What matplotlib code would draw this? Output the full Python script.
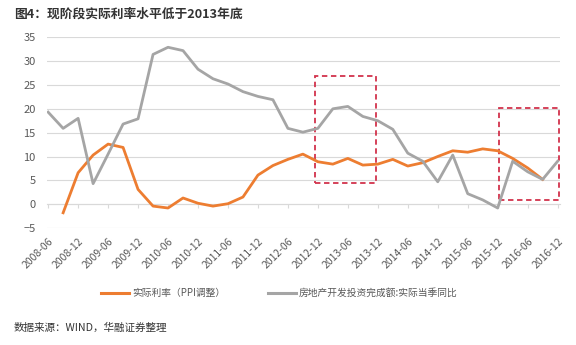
import numpy as np
import matplotlib
matplotlib.use("Agg")
import matplotlib.pyplot as plt
from matplotlib.patches import Rectangle

plt.rcParams['font.family'] = ['Noto Sans CJK SC', 'DejaVu Sans']

# quarterly points 2008-06 .. 2016-12
quarters = [f"{y}-{m:02d}" for y in range(2008, 2017) for m in (3, 6, 9, 12)][1:]
tick_labels = [q for q in quarters if q.endswith(("06", "12"))]

real_rate = [np.nan, -1.8, 6.6, 10.3, 12.6, 11.9, 3.1, -0.4, -0.8, 1.3,
             0.2, -0.4, 0.1, 1.5, 6.1, 8.1, 9.4, 10.5, 8.9, 8.4,
             9.6, 8.2, 8.4, 9.4, 8.0, 8.7, 10.0, 11.2, 10.9, 11.6,
             11.2, 9.6, 7.6, 5.2, np.nan]
property_inv = [19.3, 15.9, 18.0, 4.3, 10.5, 16.8, 17.9, 31.4, 32.9, 32.2,
                28.3, 26.3, 25.2, 23.6, 22.6, 21.9, 15.9, 15.1, 15.9, 20.0,
                20.5, 18.4, 17.5, 15.7, 10.7, 9.0, 4.7, 10.3, 2.2, 0.9,
                -0.8, 9.0, 6.8, 5.2, 9.0]

# highlighted boxes: (x0 index, x1 index, y0, y1)
boxes = [(17.8, 21.9, 4.4, 26.8), (30.1, 34.1, 0.9, 20.1)]

x = np.arange(len(quarters))

fig = plt.figure(figsize=(5.76, 3.45), dpi=100)
ax = fig.add_axes([0.081, 0.339, 0.891, 0.553])

ax.plot(x, real_rate, color='#ED7D31', lw=2.0, solid_joinstyle='round')
ax.plot(x, property_inv, color='#A5A5A5', lw=2.0, solid_joinstyle='round')

for x0, x1, y0, y1 in boxes:
    ax.add_patch(Rectangle((x0, y0), x1 - x0, y1 - y0, fill=False,
                           edgecolor='#D2334C', lw=1.3, ls=(0, (3, 2))))

ax.set_ylim(-5, 35)
ax.set_xlim(-0.1, len(quarters) - 0.85)
ax.set_yticks(range(-5, 36, 5))
ax.grid(axis='y', color='#D9D9D9', lw=0.8)
ax.set_axisbelow(True)
for s in ax.spines.values():
    s.set_visible(False)

tick_pos = [quarters.index(t) for t in tick_labels]
ax.set_xticks(tick_pos)
ax.set_xticklabels(tick_labels, rotation=45, ha='right', rotation_mode='anchor',
                   fontsize=7.5, color='#595959')
ax.tick_params(axis='x', length=0, pad=6)
ax.tick_params(axis='y', length=0, pad=8, labelsize=8, labelcolor='#595959')

# axis line at zero with small tick marks
sec = ax.secondary_xaxis(0, transform=ax.transData)
sec.set_xticks(tick_pos)
sec.set_xticklabels([])
sec.tick_params(length=3, color='#D9D9D9', width=0.8)
sec.spines['bottom'].set_color('#D9D9D9')
sec.spines['bottom'].set_linewidth(0.8)

fig.text(0.024, 0.959, "图4：现阶段实际利率水平低于2013年底", fontsize=9.2,
         fontweight='bold', color='#333333', va='center')

handles = [plt.Line2D([], [], color='#ED7D31', lw=2.2),
           plt.Line2D([], [], color='#A5A5A5', lw=2.2)]
fig.legend(handles, ["实际利率（PPI调整）", "房地产开发投资完成额:实际当季同比"],
           loc='center', bbox_to_anchor=(0.485, 0.151), ncol=2, frameon=False,
           fontsize=7, labelcolor='#595959', handlelength=2.9,
           handletextpad=0.3, columnspacing=4.4)

fig.text(0.024, 0.049, "数据来源：WIND，华融证券整理", fontsize=7.6,
         color='#333333', va='center')

fig.savefig("out.png", dpi=100, facecolor='white')
